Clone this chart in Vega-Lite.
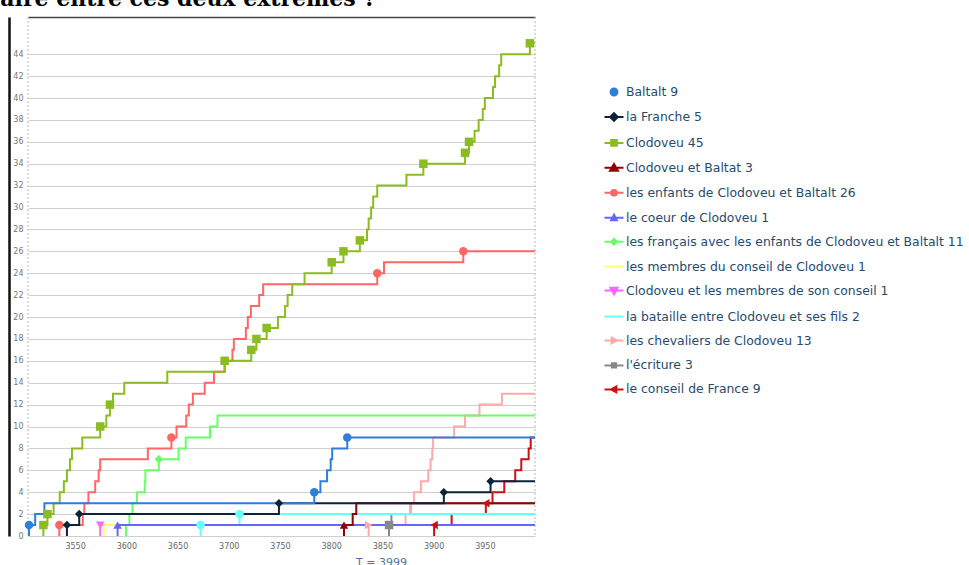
{
  "$schema": "https://vega.github.io/schema/vega-lite/v6.json",
  "width": 507,
  "height": 519,
  "autosize": "none",
  "padding": {"left": 28, "top": 17, "right": 434, "bottom": 29},
  "background": "white",
  "config": {"view": {"stroke": null}, "font": "DejaVu Sans"},
  "title": {
    "text": "laire entre ces deux extrêmes ?",
    "anchor": "start", "frame": "group", "orient": "top",
    "font": "DejaVu Serif", "fontSize": 22, "fontWeight": "bold", "color": "#000000",
    "baseline": "alphabetic", "offset": 12, "dx": -36, "dy": 23
  },
  "datasets": {
    "bornes": [{"t": 3504}, {"t": 3999}],
    "lignes": [
      {"s": "le conseil de France 9", "t": 3900.5, "n": 0},
      {"s": "le conseil de France 9", "t": 3900.5, "n": 1},
      {"s": "le conseil de France 9", "t": 3917.6, "n": 2},
      {"s": "le conseil de France 9", "t": 3951, "n": 3},
      {"s": "le conseil de France 9", "t": 3957.5, "n": 4},
      {"s": "le conseil de France 9", "t": 3969, "n": 5},
      {"s": "le conseil de France 9", "t": 3979.7, "n": 6},
      {"s": "le conseil de France 9", "t": 3985.6, "n": 7},
      {"s": "le conseil de France 9", "t": 3992.8, "n": 8},
      {"s": "le conseil de France 9", "t": 3994.8, "n": 9},
      {"s": "le conseil de France 9", "t": 3999, "n": 9},
      {"s": "l'écriture 3", "t": 3856.5, "n": 0},
      {"s": "l'écriture 3", "t": 3856.5, "n": 1},
      {"s": "l'écriture 3", "t": 3858.8, "n": 2},
      {"s": "l'écriture 3", "t": 3877.5, "n": 3},
      {"s": "l'écriture 3", "t": 3999, "n": 3},
      {"s": "les chevaliers de Clodoveu 13", "t": 3836.6, "n": 0},
      {"s": "les chevaliers de Clodoveu 13", "t": 3836.6, "n": 1},
      {"s": "les chevaliers de Clodoveu 13", "t": 3872.6, "n": 2},
      {"s": "les chevaliers de Clodoveu 13", "t": 3877.5, "n": 3},
      {"s": "les chevaliers de Clodoveu 13", "t": 3880.8, "n": 4},
      {"s": "les chevaliers de Clodoveu 13", "t": 3887.6, "n": 5},
      {"s": "les chevaliers de Clodoveu 13", "t": 3894.8, "n": 6},
      {"s": "les chevaliers de Clodoveu 13", "t": 3897, "n": 7},
      {"s": "les chevaliers de Clodoveu 13", "t": 3898.7, "n": 8},
      {"s": "les chevaliers de Clodoveu 13", "t": 3899.5, "n": 9},
      {"s": "les chevaliers de Clodoveu 13", "t": 3920, "n": 10},
      {"s": "les chevaliers de Clodoveu 13", "t": 3930.7, "n": 11},
      {"s": "les chevaliers de Clodoveu 13", "t": 3944.8, "n": 12},
      {"s": "les chevaliers de Clodoveu 13", "t": 3966.7, "n": 13},
      {"s": "les chevaliers de Clodoveu 13", "t": 3999, "n": 13},
      {"s": "la bataille entre Clodoveu et ses fils 2", "t": 3672.5, "n": 0},
      {"s": "la bataille entre Clodoveu et ses fils 2", "t": 3672.5, "n": 1},
      {"s": "la bataille entre Clodoveu et ses fils 2", "t": 3710.5, "n": 2},
      {"s": "la bataille entre Clodoveu et ses fils 2", "t": 3999, "n": 2},
      {"s": "Clodoveu et les membres de son conseil 1", "t": 3574.5, "n": 0},
      {"s": "Clodoveu et les membres de son conseil 1", "t": 3574.5, "n": 1},
      {"s": "Clodoveu et les membres de son conseil 1", "t": 3999, "n": 1},
      {"s": "les membres du conseil de Clodoveu 1", "t": 3578, "n": 0},
      {"s": "les membres du conseil de Clodoveu 1", "t": 3578, "n": 1},
      {"s": "les membres du conseil de Clodoveu 1", "t": 3999, "n": 1},
      {"s": "les français avec les enfants de Clodoveu et Baltalt 11", "t": 3599.7, "n": 0},
      {"s": "les français avec les enfants de Clodoveu et Baltalt 11", "t": 3599.7, "n": 1},
      {"s": "les français avec les enfants de Clodoveu et Baltalt 11", "t": 3603, "n": 2},
      {"s": "les français avec les enfants de Clodoveu et Baltalt 11", "t": 3606, "n": 3},
      {"s": "les français avec les enfants de Clodoveu et Baltalt 11", "t": 3610.4, "n": 4},
      {"s": "les français avec les enfants de Clodoveu et Baltalt 11", "t": 3618, "n": 5},
      {"s": "les français avec les enfants de Clodoveu et Baltalt 11", "t": 3618.6, "n": 6},
      {"s": "les français avec les enfants de Clodoveu et Baltalt 11", "t": 3631.7, "n": 7},
      {"s": "les français avec les enfants de Clodoveu et Baltalt 11", "t": 3651, "n": 8},
      {"s": "les français avec les enfants de Clodoveu et Baltalt 11", "t": 3658, "n": 9},
      {"s": "les français avec les enfants de Clodoveu et Baltalt 11", "t": 3681.7, "n": 10},
      {"s": "les français avec les enfants de Clodoveu et Baltalt 11", "t": 3689, "n": 11},
      {"s": "les français avec les enfants de Clodoveu et Baltalt 11", "t": 3999, "n": 11},
      {"s": "le coeur de Clodoveu 1", "t": 3591.5, "n": 0},
      {"s": "le coeur de Clodoveu 1", "t": 3591.5, "n": 1},
      {"s": "le coeur de Clodoveu 1", "t": 3999, "n": 1},
      {"s": "les enfants de Clodoveu et Baltalt 26", "t": 3534.6, "n": 0},
      {"s": "les enfants de Clodoveu et Baltalt 26", "t": 3534.6, "n": 1},
      {"s": "les enfants de Clodoveu et Baltalt 26", "t": 3557.5, "n": 2},
      {"s": "les enfants de Clodoveu et Baltalt 26", "t": 3559, "n": 3},
      {"s": "les enfants de Clodoveu et Baltalt 26", "t": 3563, "n": 4},
      {"s": "les enfants de Clodoveu et Baltalt 26", "t": 3569.6, "n": 5},
      {"s": "les enfants de Clodoveu et Baltalt 26", "t": 3573, "n": 6},
      {"s": "les enfants de Clodoveu et Baltalt 26", "t": 3574.5, "n": 7},
      {"s": "les enfants de Clodoveu et Baltalt 26", "t": 3621, "n": 8},
      {"s": "les enfants de Clodoveu et Baltalt 26", "t": 3644, "n": 9},
      {"s": "les enfants de Clodoveu et Baltalt 26", "t": 3649, "n": 10},
      {"s": "les enfants de Clodoveu et Baltalt 26", "t": 3658.5, "n": 11},
      {"s": "les enfants de Clodoveu et Baltalt 26", "t": 3661, "n": 12},
      {"s": "les enfants de Clodoveu et Baltalt 26", "t": 3665, "n": 13},
      {"s": "les enfants de Clodoveu et Baltalt 26", "t": 3676.5, "n": 14},
      {"s": "les enfants de Clodoveu et Baltalt 26", "t": 3685.6, "n": 15},
      {"s": "les enfants de Clodoveu et Baltalt 26", "t": 3696, "n": 16},
      {"s": "les enfants de Clodoveu et Baltalt 26", "t": 3703.6, "n": 17},
      {"s": "les enfants de Clodoveu et Baltalt 26", "t": 3705, "n": 18},
      {"s": "les enfants de Clodoveu et Baltalt 26", "t": 3716.7, "n": 19},
      {"s": "les enfants de Clodoveu et Baltalt 26", "t": 3718.6, "n": 20},
      {"s": "les enfants de Clodoveu et Baltalt 26", "t": 3721.6, "n": 21},
      {"s": "les enfants de Clodoveu et Baltalt 26", "t": 3729.7, "n": 22},
      {"s": "les enfants de Clodoveu et Baltalt 26", "t": 3733.6, "n": 23},
      {"s": "les enfants de Clodoveu et Baltalt 26", "t": 3845, "n": 24},
      {"s": "les enfants de Clodoveu et Baltalt 26", "t": 3851.6, "n": 25},
      {"s": "les enfants de Clodoveu et Baltalt 26", "t": 3929, "n": 26},
      {"s": "les enfants de Clodoveu et Baltalt 26", "t": 3999, "n": 26},
      {"s": "Clodoveu et Baltat 3", "t": 3812.5, "n": 0},
      {"s": "Clodoveu et Baltat 3", "t": 3812.5, "n": 1},
      {"s": "Clodoveu et Baltat 3", "t": 3821, "n": 2},
      {"s": "Clodoveu et Baltat 3", "t": 3824.5, "n": 3},
      {"s": "Clodoveu et Baltat 3", "t": 3999, "n": 3},
      {"s": "Clodoveu 45", "t": 3519, "n": 0},
      {"s": "Clodoveu 45", "t": 3519, "n": 1},
      {"s": "Clodoveu 45", "t": 3523, "n": 2},
      {"s": "Clodoveu 45", "t": 3529, "n": 3},
      {"s": "Clodoveu 45", "t": 3535, "n": 4},
      {"s": "Clodoveu 45", "t": 3539, "n": 5},
      {"s": "Clodoveu 45", "t": 3542, "n": 6},
      {"s": "Clodoveu 45", "t": 3545, "n": 7},
      {"s": "Clodoveu 45", "t": 3547, "n": 8},
      {"s": "Clodoveu 45", "t": 3557, "n": 9},
      {"s": "Clodoveu 45", "t": 3574.5, "n": 10},
      {"s": "Clodoveu 45", "t": 3580.5, "n": 11},
      {"s": "Clodoveu 45", "t": 3584, "n": 12},
      {"s": "Clodoveu 45", "t": 3587, "n": 13},
      {"s": "Clodoveu 45", "t": 3598, "n": 14},
      {"s": "Clodoveu 45", "t": 3640, "n": 15},
      {"s": "Clodoveu 45", "t": 3696, "n": 16},
      {"s": "Clodoveu 45", "t": 3722, "n": 17},
      {"s": "Clodoveu 45", "t": 3727, "n": 18},
      {"s": "Clodoveu 45", "t": 3737, "n": 19},
      {"s": "Clodoveu 45", "t": 3748, "n": 20},
      {"s": "Clodoveu 45", "t": 3755, "n": 21},
      {"s": "Clodoveu 45", "t": 3757.5, "n": 22},
      {"s": "Clodoveu 45", "t": 3762, "n": 23},
      {"s": "Clodoveu 45", "t": 3774, "n": 24},
      {"s": "Clodoveu 45", "t": 3800.5, "n": 25},
      {"s": "Clodoveu 45", "t": 3812, "n": 26},
      {"s": "Clodoveu 45", "t": 3828, "n": 27},
      {"s": "Clodoveu 45", "t": 3835, "n": 28},
      {"s": "Clodoveu 45", "t": 3836.6, "n": 29},
      {"s": "Clodoveu 45", "t": 3839, "n": 30},
      {"s": "Clodoveu 45", "t": 3841, "n": 31},
      {"s": "Clodoveu 45", "t": 3845, "n": 32},
      {"s": "Clodoveu 45", "t": 3873.5, "n": 33},
      {"s": "Clodoveu 45", "t": 3890, "n": 34},
      {"s": "Clodoveu 45", "t": 3930.7, "n": 35},
      {"s": "Clodoveu 45", "t": 3934.6, "n": 36},
      {"s": "Clodoveu 45", "t": 3940, "n": 37},
      {"s": "Clodoveu 45", "t": 3944, "n": 38},
      {"s": "Clodoveu 45", "t": 3948, "n": 39},
      {"s": "Clodoveu 45", "t": 3950, "n": 40},
      {"s": "Clodoveu 45", "t": 3958, "n": 41},
      {"s": "Clodoveu 45", "t": 3960, "n": 42},
      {"s": "Clodoveu 45", "t": 3964, "n": 43},
      {"s": "Clodoveu 45", "t": 3966, "n": 44},
      {"s": "Clodoveu 45", "t": 3994, "n": 45},
      {"s": "Clodoveu 45", "t": 3999, "n": 45},
      {"s": "la Franche 5", "t": 3542, "n": 0},
      {"s": "la Franche 5", "t": 3542, "n": 1},
      {"s": "la Franche 5", "t": 3554, "n": 2},
      {"s": "la Franche 5", "t": 3749, "n": 3},
      {"s": "la Franche 5", "t": 3910, "n": 4},
      {"s": "la Franche 5", "t": 3955.6, "n": 5},
      {"s": "la Franche 5", "t": 3999, "n": 5},
      {"s": "Baltalt 9", "t": 3505, "n": 0},
      {"s": "Baltalt 9", "t": 3505, "n": 1},
      {"s": "Baltalt 9", "t": 3511, "n": 2},
      {"s": "Baltalt 9", "t": 3520, "n": 3},
      {"s": "Baltalt 9", "t": 3783.5, "n": 4},
      {"s": "Baltalt 9", "t": 3789.5, "n": 5},
      {"s": "Baltalt 9", "t": 3796, "n": 6},
      {"s": "Baltalt 9", "t": 3799.5, "n": 7},
      {"s": "Baltalt 9", "t": 3801, "n": 8},
      {"s": "Baltalt 9", "t": 3815.7, "n": 9},
      {"s": "Baltalt 9", "t": 3999, "n": 9}
    ],
    "marques": [
      {"s": "le conseil de France 9", "t": 3900.5, "n": 1},
      {"s": "le conseil de France 9", "t": 3951, "n": 3},
      {"s": "l'écriture 3", "t": 3856.5, "n": 1},
      {"s": "les chevaliers de Clodoveu 13", "t": 3836.6, "n": 1},
      {"s": "la bataille entre Clodoveu et ses fils 2", "t": 3672.5, "n": 1},
      {"s": "la bataille entre Clodoveu et ses fils 2", "t": 3710.5, "n": 2},
      {"s": "Clodoveu et les membres de son conseil 1", "t": 3574.5, "n": 1},
      {"s": "les français avec les enfants de Clodoveu et Baltalt 11", "t": 3631.7, "n": 7},
      {"s": "le coeur de Clodoveu 1", "t": 3591.5, "n": 1},
      {"s": "les enfants de Clodoveu et Baltalt 26", "t": 3534.6, "n": 1},
      {"s": "les enfants de Clodoveu et Baltalt 26", "t": 3644, "n": 9},
      {"s": "les enfants de Clodoveu et Baltalt 26", "t": 3845, "n": 24},
      {"s": "les enfants de Clodoveu et Baltalt 26", "t": 3929, "n": 26},
      {"s": "Clodoveu et Baltat 3", "t": 3812.5, "n": 1},
      {"s": "Clodoveu 45", "t": 3519, "n": 1},
      {"s": "Clodoveu 45", "t": 3523, "n": 2},
      {"s": "Clodoveu 45", "t": 3574.5, "n": 10},
      {"s": "Clodoveu 45", "t": 3584, "n": 12},
      {"s": "Clodoveu 45", "t": 3696, "n": 16},
      {"s": "Clodoveu 45", "t": 3722, "n": 17},
      {"s": "Clodoveu 45", "t": 3727, "n": 18},
      {"s": "Clodoveu 45", "t": 3737, "n": 19},
      {"s": "Clodoveu 45", "t": 3800.5, "n": 25},
      {"s": "Clodoveu 45", "t": 3812, "n": 26},
      {"s": "Clodoveu 45", "t": 3828, "n": 27},
      {"s": "Clodoveu 45", "t": 3890, "n": 34},
      {"s": "Clodoveu 45", "t": 3930.7, "n": 35},
      {"s": "Clodoveu 45", "t": 3934.6, "n": 36},
      {"s": "Clodoveu 45", "t": 3994, "n": 45},
      {"s": "la Franche 5", "t": 3542, "n": 1},
      {"s": "la Franche 5", "t": 3554, "n": 2},
      {"s": "la Franche 5", "t": 3749, "n": 3},
      {"s": "la Franche 5", "t": 3910, "n": 4},
      {"s": "la Franche 5", "t": 3955.6, "n": 5},
      {"s": "Baltalt 9", "t": 3505, "n": 1},
      {"s": "Baltalt 9", "t": 3783.5, "n": 4},
      {"s": "Baltalt 9", "t": 3815.7, "n": 9}
    ]
  },
  "layer": [
    {
      "data": {"name": "bornes"},
      "mark": {"type": "rule", "color": "#b8b8b8", "strokeWidth": 1, "strokeDash": [2, 2]},
      "encoding": {
        "x": {
          "field": "t", "type": "quantitative",
          "scale": {"domain": [3504, 3999], "nice": false, "zero": false},
          "axis": {"orient": "top", "labels": false, "ticks": false, "grid": false, "domain": true, "domainColor": "#444444", "domainWidth": 1.5, "title": null}
        }
      }
    },
    {
      "data": {"name": "lignes"},
      "mark": {"type": "line", "interpolate": "step-after", "strokeWidth": 2},
      "encoding": {
        "x": {
          "field": "t", "type": "quantitative",
          "scale": {"domain": [3504, 3999], "nice": false, "zero": false},
          "axis": {
            "orient": "bottom", "values": [3550, 3600, 3650, 3700, 3750, 3800, 3850, 3900, 3950], "format": "d",
            "grid": false, "domain": false, "ticks": false, "tickSize": 0,
            "labelColor": "#666666", "labelFontSize": 8, "labelPadding": 6,
            "title": "T = 3999", "titleColor": "#4d759e", "titleFontSize": 11, "titleFontWeight": "normal",
            "titleX": 353, "titleY": 20, "titleBaseline": "top"
          }
        },
        "y": {
          "field": "n", "type": "quantitative",
          "scale": {"domain": [0, 47.4], "nice": false},
          "axis": {
            "values": [0, 2, 4, 6, 8, 10, 12, 14, 16, 18, 20, 22, 24, 26, 28, 30, 32, 34, 36, 38, 40, 42, 44],
            "grid": true, "gridColor": "#cfcfcf", "gridWidth": 1,
            "domain": true, "domainColor": "#111111", "domainWidth": 2.5, "offset": 19,
            "ticks": false, "tickSize": 0,
            "labelColor": "#777777", "labelFontSize": 8, "labelPadding": -14, "labelAlign": "right",
            "title": null
          }
        },
        "order": [{"field": "t", "type": "quantitative"}, {"field": "n", "type": "quantitative"}],
        "color": {
          "field": "s", "type": "nominal",
          "scale": {
            "domain": ["Baltalt 9", "la Franche 5", "Clodoveu 45", "Clodoveu et Baltat 3", "les enfants de Clodoveu et Baltalt 26", "le coeur de Clodoveu 1", "les français avec les enfants de Clodoveu et Baltalt 11", "les membres du conseil de Clodoveu 1", "Clodoveu et les membres de son conseil 1", "la bataille entre Clodoveu et ses fils 2", "les chevaliers de Clodoveu 13", "l'écriture 3", "le conseil de France 9"],
            "range": ["#2f7ed8", "#0d233a", "#8bbc21", "#910000", "#ff6666", "#6666ff", "#66ff66", "#ffff66", "#ff66ff", "#66ffff", "#ffaaaa", "#888888", "#cc1111"]
          },
          "legend": {
            "orient": "none", "legendX": 575.5, "legendY": 64.5, "title": null, "padding": 0,
            "rowPadding": 6.95, "labelFont": "DejaVu Sans", "labelFontSize": 12.4, "labelColor": "#274b6d",
            "labelOffset": 1.5, "labelLimit": 500, "symbolSize": 361, "symbolStrokeWidth": 2,
            "symbolFillColor": {"expr": "scale('color', datum.value)"},
            "symbolType": {"expr": "['M-0.36,0A0.36,0.36,0,1,1,0.36,0A0.36,0.36,0,1,1,-0.36,0Z','M-1,0H1M0,-0.4L0.4,0L0,0.4L-0.4,0Z','M-1,0H1M-0.3,-0.3H0.3V0.3H-0.3Z','M-1,0H1M0,-0.4L0.42,0.3H-0.42Z','M-1,0H1M-0.3,0A0.3,0.3,0,1,1,0.3,0A0.3,0.3,0,1,1,-0.3,0Z','M-1,0H1M0,-0.32L0.3,0.25H-0.3Z','M-1,0H1M0,-0.3L0.3,0L0,0.3L-0.3,0Z','M-1,0H1','M-1,0H1M0,0.38L0.38,-0.3H-0.38Z','M-1,0H1','M-1,0H1M0.3,0L-0.25,-0.3V0.3Z','M-1,0H1M-0.22,-0.22H0.22V0.22H-0.22Z','M-1,0H1M-0.3,0L0.25,-0.3V0.3Z'][indexof(domain('color'), datum.value)]"}
          }
        }
      }
    },
    {
      "data": {"name": "marques"},
      "mark": {"type": "point", "filled": true, "opacity": 1, "size": 72},
      "encoding": {
        "x": {"field": "t", "type": "quantitative", "axis": null},
        "y": {
          "field": "n", "type": "quantitative",
          "axis": {
            "values": [0, 2, 4, 6, 8, 10, 12, 14, 16, 18, 20, 22, 24, 26, 28, 30, 32, 34, 36, 38, 40, 42, 44],
            "grid": true, "gridColor": "#cfcfcf", "gridWidth": 1,
            "domain": true, "domainColor": "#111111", "domainWidth": 2.5, "offset": 19,
            "ticks": false, "tickSize": 0,
            "labelColor": "#777777", "labelFontSize": 8, "labelPadding": -14, "labelAlign": "right",
            "title": null
          }
        },
        "color": {"field": "s", "type": "nominal", "legend": null},
        "shape": {
          "field": "s", "type": "nominal", "legend": null,
          "scale": {
            "domain": ["Baltalt 9", "la Franche 5", "Clodoveu 45", "Clodoveu et Baltat 3", "les enfants de Clodoveu et Baltalt 26", "le coeur de Clodoveu 1", "les français avec les enfants de Clodoveu et Baltalt 11", "Clodoveu et les membres de son conseil 1", "la bataille entre Clodoveu et ses fils 2", "les chevaliers de Clodoveu 13", "l'écriture 3", "le conseil de France 9"],
            "range": ["circle", "diamond", "square", "triangle-up", "circle", "triangle-up", "diamond", "triangle-down", "circle", "triangle-right", "square", "triangle-left"]
          }
        }
      }
    }
  ]
}
